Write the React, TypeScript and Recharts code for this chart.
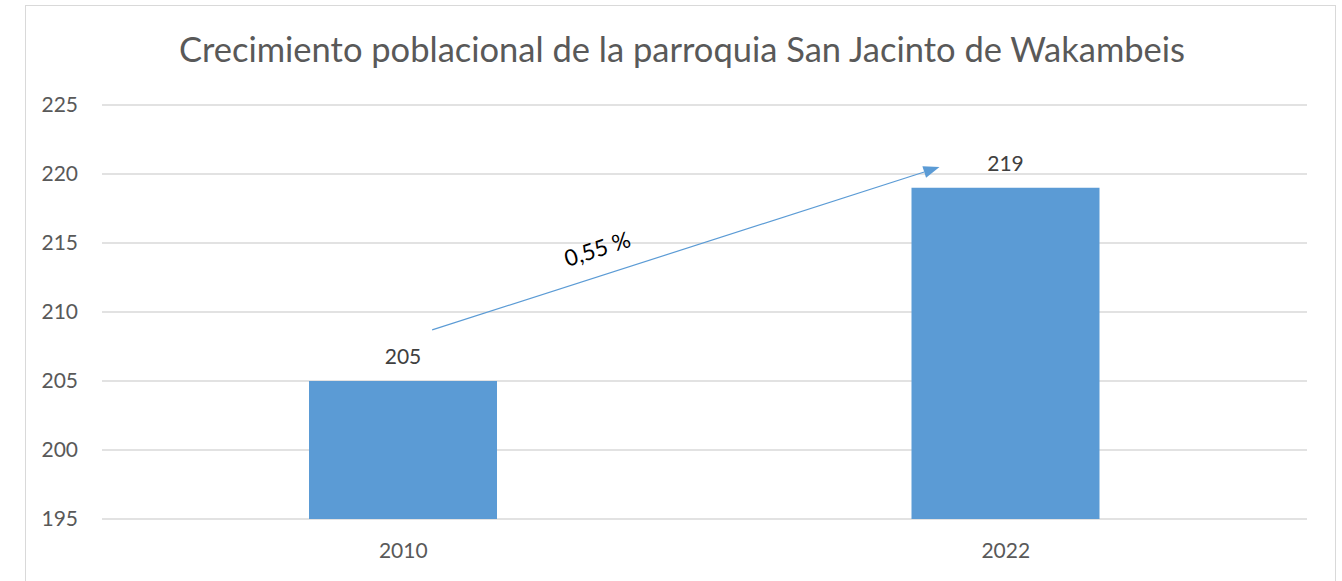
import React from 'react';
import { BarChart, Bar, XAxis, YAxis, CartesianGrid, LabelList, ReferenceLine, ReferenceDot } from 'recharts';

const years = ['2010', '2022'];
const population = [205, 219];
const yTicks = [195, 200, 205, 210, 215, 220, 225];
const growthLabel = '0,55 %';
const chartTitle = 'Crecimiento poblacional de la parroquia San Jacinto de Wakambeis';

// arrow annotation, in (fraction of plot width, population) space
const arrowFrom = { x: 0.274, y: 208.7 };
const arrowTo = { x: 0.695, y: 220.5 };
const labelAt = { x: 0.411, y: 214.6 };

const FONT = 'Lato, "Open Sans", sans-serif';

const chartData = years.map((year, i) => ({ year, value: population[i] }));

const ArrowShape = (props: any) => {
  const { x1, y1, x2, y2 } = props;
  const dx = x2 - x1;
  const dy = y2 - y1;
  const len = Math.sqrt(dx * dx + dy * dy);
  const ux = dx / len;
  const uy = dy / len;
  const head = 16;
  const half = 6;
  const bx = x2 - ux * head;
  const by = y2 - uy * head;
  return (
    <g>
      <line x1={x1} y1={y1} x2={bx} y2={by} stroke="#5b9bd5" strokeWidth={1.2} />
      <polygon
        points={`${x2},${y2} ${bx - uy * half},${by + ux * half} ${bx + uy * half},${by - ux * half}`}
        fill="#5b9bd5"
      />
    </g>
  );
};

const GrowthText = (props: any) => {
  const { cx, cy } = props;
  return (
    <text
      x={cx}
      y={cy}
      transform={`rotate(-18 ${cx} ${cy})`}
      textAnchor="middle"
      dominantBaseline="central"
      fontFamily={FONT}
      fontSize={22.5}
      fill="#000"
    >
      {growthLabel}
    </text>
  );
};

export default function App() {
  return (
    <div style={{ position: 'absolute', left: 0, top: 0, width: 1342, height: 581, overflow: 'hidden', background: '#fff' }}>
      <div
        style={{
          position: 'absolute',
          left: 25,
          top: 5,
          width: 1311,
          height: 700,
          border: '1px solid #d9d9d9',
          boxSizing: 'border-box',
        }}
      />
      <div
        style={{
          position: 'absolute',
          left: 25,
          top: 27,
          width: 1314,
          height: 44,
          lineHeight: '44px',
          textAlign: 'center',
          fontFamily: FONT,
          fontSize: 34.5,
          color: '#595959',
          whiteSpace: 'nowrap',
        }}
      >
        {chartTitle}
      </div>
      <div style={{ position: 'absolute', left: 0, top: 0 }}>
        <BarChart width={1342} height={581} data={chartData} margin={{ top: 105, right: 35, bottom: 22, left: 0 }}>
          <CartesianGrid vertical={false} stroke="#d9d9d9" strokeWidth={1.3} />
          <XAxis
            dataKey="year"
            height={40}
            axisLine={false}
            tickLine={false}
            tickSize={0}
            tickMargin={24}
            tick={{ fill: '#595959', fontSize: 21, fontFamily: FONT }}
          />
          <XAxis xAxisId="arrow" type="number" domain={[0, 1]} hide />
          <YAxis
            width={102}
            domain={[195, 225]}
            ticks={yTicks}
            interval={0}
            axisLine={false}
            tickLine={false}
            tickSize={0}
            tickMargin={24}
            tick={{ fill: '#595959', fontSize: 21, fontFamily: FONT }}
          />
          <Bar dataKey="value" fill="#5b9bd5" barSize={188} isAnimationActive={false}>
            <LabelList dataKey="value" position="top" offset={17} fill="#404040" fontSize={21} fontFamily={FONT} />
          </Bar>
          <ReferenceLine
            xAxisId="arrow"
            segment={[arrowFrom, arrowTo]}
            shape={ArrowShape}
            ifOverflow="visible"
          />
          <ReferenceDot xAxisId="arrow" x={labelAt.x} y={labelAt.y} shape={GrowthText} ifOverflow="visible" />
        </BarChart>
      </div>
    </div>
  );
}
